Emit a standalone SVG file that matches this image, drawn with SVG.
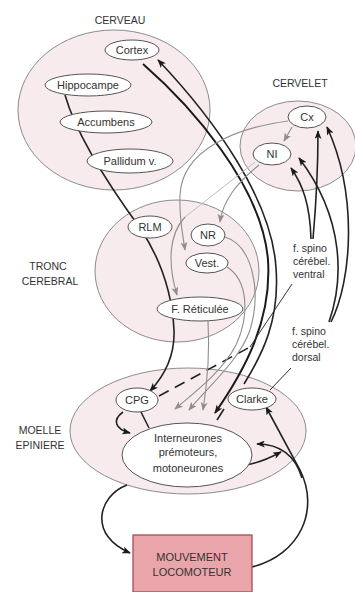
<svg xmlns="http://www.w3.org/2000/svg" width="355" height="592" viewBox="0 0 355 592">
<defs>
<style>
.region{fill:#f7ebee;stroke:#8c8c8c;stroke-width:1}
.node{fill:#ffffff;stroke:#555;stroke-width:1}
.t{font-family:"Liberation Sans",Arial,sans-serif;font-size:11px;fill:#333;text-anchor:middle}
.lab{font-family:"Liberation Sans",Arial,sans-serif;font-size:10.5px;fill:#333;text-anchor:middle}
.side{font-family:"Liberation Sans",Arial,sans-serif;font-size:10.5px;fill:#333}
.blk{fill:none;stroke:#222;stroke-width:1.6}
.thick{fill:none;stroke:#1a1a1a;stroke-width:2}
.thin{fill:none;stroke:#333;stroke-width:1}
.gry{fill:none;stroke:#8e8e8e;stroke-width:1.1}
.lgry{fill:none;stroke:#bdbdbd;stroke-width:1}
</style>
<marker id="ab" viewBox="0 0 10 8" refX="9" refY="4" markerWidth="9" markerHeight="7" markerUnits="userSpaceOnUse" orient="auto">
<path d="M0,0 L10,4 L0,8 L2.5,4 z" fill="#1a1a1a"/>
</marker>
<marker id="ag" viewBox="0 0 10 8" refX="9" refY="4" markerWidth="9" markerHeight="7" markerUnits="userSpaceOnUse" orient="auto">
<path d="M0,0 L10,4 L0,8 L2.5,4 z" fill="#8e8e8e"/>
</marker>
</defs>
<rect width="355" height="592" fill="#ffffff"/>

<g id="regions">
<ellipse id="cerveau" class="region" cx="114" cy="110" rx="96" ry="80"/>
<ellipse id="cervelet" class="region" cx="298" cy="146" rx="58" ry="45"/>
<ellipse id="tronc" class="region" cx="177" cy="271" rx="82" ry="71"/>
<ellipse id="moelle" class="region" cx="188" cy="431" rx="118" ry="63"/>
</g>

<g id="region-labels">
<text class="lab" x="120" y="24">CERVEAU</text>
<text class="lab" x="300" y="87">CERVELET</text>
<text class="lab" x="48" y="270">TRONC</text>
<text class="lab" x="50" y="285">CEREBRAL</text>
<text class="lab" x="40" y="434">MOELLE</text>
<text class="lab" x="40" y="449">EPINIERE</text>
</g>

<g id="connectors">
<!-- main limbic pathway to CPG -->
<path class="blk" d="M65,95 C75,130 105,180 140,228 C160,258 172,290 174,330 C175,355 165,375 150,391" marker-end="url(#ab)"/>
<!-- cortex descending -->
<path class="thick" d="M143,64 C190,105 262,185 268,260 C272,320 245,370 215,413" marker-end="url(#ab)"/>
<!-- ascending to cortex -->
<path class="blk" d="M217,420 L224,409"/>
<path class="blk" d="M244,384 C262,355 280,320 276,268 C272,200 215,120 158,60" marker-end="url(#ab)"/>
<!-- ventral spinocerebellar -->
<path class="blk" d="M159,396 L250,347" stroke-dasharray="11,7"/>
<path class="thin" d="M250,347 L292,284"/>
<path class="blk" d="M313,239 C316,205 318,165 318,131" marker-end="url(#ab)"/>
<path class="blk" d="M311,239 C310,205 303,185 291,168" marker-end="url(#ab)"/>
<!-- dorsal spinocerebellar -->
<path class="thin" d="M270,390 L291,368"/>
<path class="blk" d="M329,322 C343,282 346,220 299,158" marker-end="url(#ab)"/>
<path class="blk" d="M331,322 C352,280 358,195 327,127" marker-end="url(#ab)"/>
<!-- cerebellar / brainstem grey paths -->
<path class="gry" d="M292,127 L284,141" marker-end="url(#ag)"/>
<path class="gry" d="M288,121 C235,128 182,150 180,195 C179,220 183,235 185,250" marker-end="url(#ag)"/>
<path class="gry" d="M259,165 C237,183 223,200 220,222" marker-end="url(#ag)"/>
<path class="lgry" d="M255,162 L185,217"/>
<path class="gry" d="M185,217 C168,235 168,265 177,295" marker-end="url(#ag)"/>
<path class="gry" d="M225,237 C252,245 262,290 250,330 C240,360 205,390 189,410" marker-end="url(#ag)"/>
<path class="gry" d="M227,267 C248,280 250,315 236,345 C222,372 195,392 175,409" marker-end="url(#ag)"/>
<path class="gry" d="M208,321 C210,355 207,385 203,410" marker-end="url(#ag)"/>
<!-- spinal level -->
<path class="blk" d="M123,412 C112,420 115,429 130,433" marker-end="url(#ab)"/>
<path class="blk" d="M141,412 L149,428"/>
<path class="blk" d="M246,465 C258,463 268,459 281,452" marker-end="url(#ab)"/>
<path class="blk" d="M127,485 C98,496 88,535 130,553" marker-end="url(#ab)"/>
<path class="blk" d="M252,567 C300,555 320,510 300,470 L266,407" marker-end="url(#ab)"/>
<path class="blk" d="M302,478 C295,455 280,444 257,444" marker-end="url(#ab)"/>
</g>

<g id="node-cortex"><ellipse class="node" cx="132" cy="50" rx="27" ry="10"/><text class="t" x="132" y="54">Cortex</text></g>
<g id="node-hippocampe"><ellipse class="node" cx="88" cy="85" rx="43" ry="11"/><text class="t" x="88" y="89">Hippocampe</text></g>
<g id="node-accumbens"><ellipse class="node" cx="106" cy="122" rx="46" ry="11"/><text class="t" x="106" y="126">Accumbens</text></g>
<g id="node-pallidum"><ellipse class="node" cx="130" cy="161" rx="43" ry="12"/><text class="t" x="130" y="165">Pallidum v.</text></g>
<g id="node-cx"><ellipse class="node" cx="307" cy="117" rx="19" ry="11"/><text class="t" x="307" y="121">Cx</text></g>
<g id="node-ni"><ellipse class="node" cx="272" cy="154" rx="19" ry="11"/><text class="t" x="272" y="158">NI</text></g>
<g id="node-rlm"><ellipse class="node" cx="150" cy="227" rx="22" ry="11"/><text class="t" x="150" y="231">RLM</text></g>
<g id="node-nr"><ellipse class="node" cx="208" cy="235" rx="17" ry="11"/><text class="t" x="208" y="239">NR</text></g>
<g id="node-vest"><ellipse class="node" cx="207" cy="263" rx="21" ry="10"/><text class="t" x="207" y="267">Vest.</text></g>
<g id="node-freticulee"><ellipse class="node" cx="200" cy="309" rx="43" ry="12"/><text class="t" x="200" y="313">F. Réticulée</text></g>
<g id="node-cpg"><ellipse class="node" cx="137" cy="400" rx="21" ry="12"/><text class="t" x="137" y="404">CPG</text></g>
<g id="node-clarke"><ellipse class="node" cx="252" cy="399" rx="24" ry="11"/><text class="t" x="252" y="403">Clarke</text></g>
<g id="node-interneurones"><ellipse class="node" cx="187" cy="455" rx="65" ry="32"/>
<text class="t" x="188" y="442">Interneurones</text>
<text class="t" x="188" y="456">prémoteurs,</text>
<text class="t" x="188" y="472">motoneurones</text></g>
<g id="node-mouvement"><rect x="133" y="535" width="119" height="57" fill="#eaa5aa" stroke="#a64d58" stroke-width="1.3"/>
<text class="t" x="192" y="561" fill="#444">MOUVEMENT</text>
<text class="t" x="192" y="576" fill="#444">LOCOMOTEUR</text></g>

<g id="tract-labels">
<text class="side" x="293" y="252">f. spino</text>
<text class="side" x="293" y="265">cérébel.</text>
<text class="side" x="293" y="278">ventral</text>
<text class="side" x="292" y="335">f. spino</text>
<text class="side" x="292" y="348">cérébel.</text>
<text class="side" x="292" y="361">dorsal</text>
</g>
</svg>
